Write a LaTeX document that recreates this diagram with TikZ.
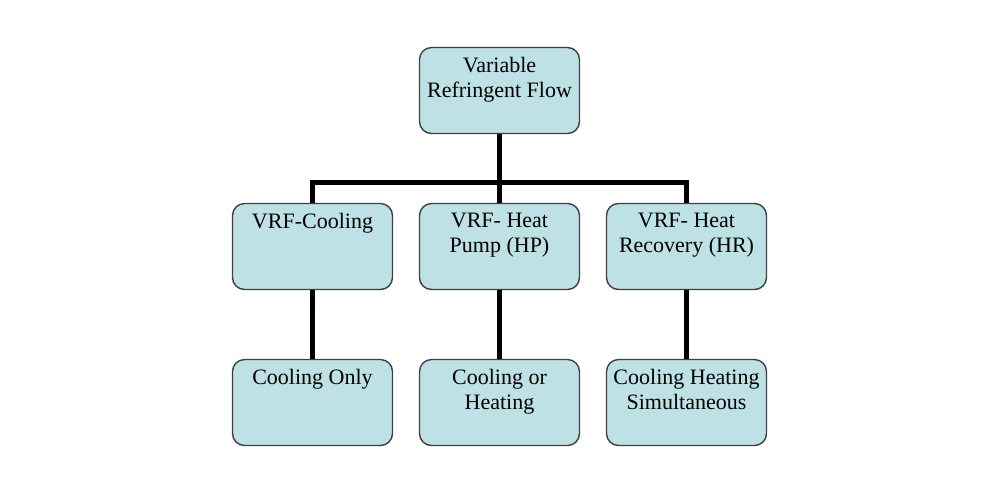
\documentclass[tikz,border=0pt]{standalone}
\usepackage{fontspec}
\setmainfont{Liberation Serif}
\definecolor{vrfblue}{RGB}{189,225,229}
\newcommand{\vrftext}[1]{\parbox[t][33pt][t]{76pt}{\centering #1}}

\begin{document}
\begin{tikzpicture}
                        \useasboundingbox (0,0) rectangle (500pt,-250pt);
                        \tikzstyle{every node}=[draw=black!75, line width=0.7pt, fill=vrfblue, rounded corners=6pt, inner xsep=2pt, inner ysep=5pt, font=\fontsize{11}{12.5}\selectfont]
                        \tikzstyle{edge from parent}=[draw, line width=2.5pt]
                        \tikzstyle{level 1}=[sibling distance=93.5pt, level distance=78pt, edge from parent path={(\tikzparentnode.south) -- ++(0,-24pt) -| (\tikzchildnode.north)}]
                        \tikzstyle{level 2}=[level distance=78pt, edge from parent path={(\tikzparentnode.south) -- (\tikzchildnode.north)}]
                        \node (vrf) at (249.75pt,-45.25pt) {\vrftext{Variable\\Refringent Flow}}
                            child {node (cool) {\vrftext{VRF-Cooling}}
                                child {node (coolonly) {\vrftext{Cooling Only}}
                                }
                            }
                            child {node (hp) {\vrftext{VRF- Heat\\Pump (HP)}}
                                child {node (coolheat) {\vrftext{Cooling or\\Heating}}
                                }
                            }
                            child {node (hr) {\vrftext{VRF- Heat\\Recovery (HR)}}
                                child {node (simul) {\vrftext{Cooling Heating\\Simultaneous}}
                                }
                            };
\end{tikzpicture}
\end{document}
